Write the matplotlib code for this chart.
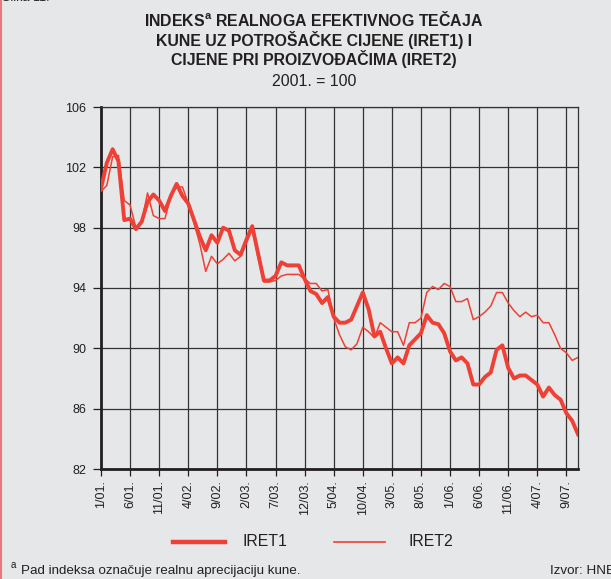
import matplotlib.pyplot as plt
from matplotlib.lines import Line2D

plt.rcParams['font.family'] = ['Liberation Sans', 'DejaVu Sans']

# monthly values, 1/01. .. 11/07.
iret1 = [100.6, 102.3, 103.2, 102.4, 98.5, 98.6, 97.9, 98.4, 99.7, 100.2,
         99.8, 99.1, 100.1, 100.9, 100.1, 99.6, 98.5, 97.4, 96.5, 97.5,
         97.0, 98.0, 97.8, 96.5, 96.2, 97.2, 98.1, 96.3, 94.5, 94.5,
         94.8, 95.7, 95.5, 95.5, 95.5, 94.6, 93.8, 93.6, 93.0, 93.4,
         92.1, 91.7, 91.7, 91.9, 92.8, 93.7, 92.6, 90.8, 91.1, 90.0,
         89.0, 89.4, 89.0, 90.2, 90.6, 91.0, 92.2, 91.7, 91.6, 91.0,
         89.8, 89.2, 89.4, 89.0, 87.6, 87.6, 88.1, 88.4, 89.9, 90.2,
         88.7, 88.0, 88.2, 88.2, 87.9, 87.6, 86.8, 87.4, 86.9, 86.6,
         85.7, 85.2, 84.3]
iret2 = [100.4, 100.8, 102.7, 102.8, 99.8, 99.5, 98.0, 98.4, 100.3, 98.8,
         98.6, 98.6, 100.1, 100.7, 100.7, 99.6, 98.3, 96.9, 95.1, 96.1,
         95.6, 95.9, 96.3, 95.8, 96.1, 97.0, 97.9, 96.0, 94.4, 94.4,
         94.5, 94.8, 94.9, 94.9, 94.9, 94.6, 94.3, 94.3, 93.8, 93.9,
         92.0, 90.9, 90.1, 89.9, 90.3, 91.4, 91.1, 90.7, 91.7, 91.4,
         91.1, 91.1, 90.2, 91.7, 91.7, 92.0, 93.7, 94.1, 93.9, 94.3,
         94.1, 93.1, 93.1, 93.3, 91.9, 92.1, 92.4, 92.8, 93.7, 93.7,
         93.0, 92.5, 92.1, 92.4, 92.1, 92.2, 91.7, 91.7, 90.9, 90.0,
         89.7, 89.2, 89.4]
tick_labels = ['1/01.', '6/01.', '11/01.', '4/02.', '9/02.', '2/03.', '7/03.',
               '12/03.', '5/04.', '10/04.', '3/05.', '8/05.', '1/06.', '6/06.',
               '11/06.', '4/07.', '9/07.']
y_ticks = [82, 86, 90, 94, 98, 102, 106]

bg = '#e6e7e8'
red = '#ef4035'
ink = '#231f20'

fig = plt.figure(figsize=(6.11, 5.79), dpi=100, facecolor=bg)
W, H = 611, 579
ax = fig.add_axes([101 / W, 1 - 469 / H, (578 - 101) / W, (469 - 107) / H])
ax.set_facecolor(bg)

months = list(range(len(iret1)))
ax.plot(months, iret1, color=red, lw=2.8, solid_joinstyle='round', zorder=3)
ax.plot(months, iret2, color=red, lw=1.1, zorder=3)

ax.set_xlim(0, len(iret1) - 1)
ax.set_ylim(82, 106)
ax.set_xticks(range(0, 81, 5))
ax.set_xticklabels(tick_labels, rotation=90, fontsize=9, color=ink)
ax.set_yticks(y_ticks)
ax.set_yticklabels([str(v) for v in y_ticks], fontsize=9, color=ink)
ax.tick_params(axis='x', length=5, width=0.9, color=ink, pad=3)
ax.tick_params(axis='y', length=5.5, width=0.9, color=ink, pad=5)
ax.grid(True, color='#333333', lw=0.9)
for s in ['top', 'right']:
    ax.spines[s].set_color('#333333')
    ax.spines[s].set_linewidth(0.9)
ax.spines['left'].set_linewidth(2)
ax.spines['bottom'].set_linewidth(2)
ax.spines['left'].set_color(ink)
ax.spines['bottom'].set_color(ink)

# titles
cx = 314 / W
fig.text(cx, 1 - 20 / H, 'INDEKS$^{\\mathregular{a}}$ REALNOGA EFEKTIVNOG TEČAJA',
         ha='center', va='center', fontsize=11.4, fontweight='bold', color=ink)
fig.text(cx, 1 - 40 / H, 'KUNE UZ POTROŠAČKE CIJENE (IRET1) I',
         ha='center', va='center', fontsize=11.4, fontweight='bold', color=ink)
fig.text(cx, 1 - 59 / H, 'CIJENE PRI PROIZVOĐAČIMA (IRET2)',
         ha='center', va='center', fontsize=11.4, fontweight='bold', color=ink)
fig.text(cx, 1 - 81 / H, '2001. = 100', ha='center', va='center',
         fontsize=11.4, color=ink)
fig.text(2 / W, 1 + 2 / H, 'Slika 11.', ha='left', va='center', fontsize=9, color=ink)

# legend
fig.add_artist(Line2D([173 / W, 225 / W], [1 - 542 / H] * 2, color=red, lw=3.2))
fig.text(242 / W, 1 - 542 / H, 'IRET1', ha='left', va='center', fontsize=11.4, color=ink)
fig.add_artist(Line2D([334 / W, 385 / W], [1 - 542 / H] * 2, color=red, lw=1.2))
fig.text(408 / W, 1 - 542 / H, 'IRET2', ha='left', va='center', fontsize=11.4, color=ink)

# footnotes
fig.text(11 / W, 1 - 565 / H, 'a', ha='left', va='center', fontsize=7, color=ink)
fig.text(21 / W, 1 - 571 / H, 'Pad indeksa označuje realnu aprecijaciju kune.',
         ha='left', va='center', fontsize=9.6, color=ink)
fig.text(550 / W, 1 - 571 / H, 'Izvor: HNB', ha='left', va='center',
         fontsize=9.6, color=ink)

# left border
fig.add_artist(Line2D([0.5 / W, 0.5 / W], [0, 1], color='#e8797a', lw=1.5))

fig.savefig('out.png', dpi=100, facecolor=bg)
